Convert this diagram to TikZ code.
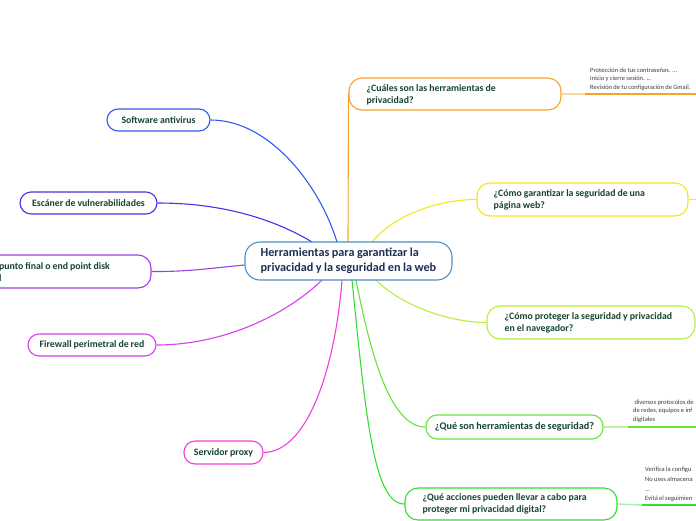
\documentclass[tikz,border=0pt]{standalone}
\usepackage{fontspec}
\setmainfont{Carlito}[WordSpace=0.9]
\definecolor{tgreen}{RGB}{22,68,52}
\definecolor{tnavy}{RGB}{28,48,86}
\definecolor{cborder}{RGB}{74,144,200}
\definecolor{corange}{RGB}{246,164,40}
\definecolor{corangel}{RGB}{251,214,160}
\definecolor{cyellow}{RGB}{242,232,20}
\definecolor{cygreen}{RGB}{184,238,60}
\definecolor{cgreenA}{RGB}{104,226,58}
\definecolor{cgreenAl}{RGB}{190,240,170}
\definecolor{cgreenB}{RGB}{52,220,52}
\definecolor{cgreenBl}{RGB}{170,238,170}
\definecolor{cblue}{RGB}{47,91,240}
\definecolor{cindigo}{RGB}{75,47,230}
\definecolor{cpurple}{RGB}{155,63,232}
\definecolor{cmagenta}{RGB}{214,63,238}
\definecolor{cpink}{RGB}{240,63,216}
\definecolor{small}{RGB}{60,60,60}
\tikzset{
  topicbox/.style={rectangle, fill=white, line width=1.1pt, inner sep=0pt,
    font=\bfseries\fontsize{9.8}{12}\selectfont, text=tgreen, align=center},
  topictext/.style={anchor=west, inner sep=0pt, align=left, text=tgreen,
    font=\bfseries\fontsize{9.8}{12}\selectfont},
  conn/.style={line width=1.1pt},
  uline/.style={line width=2.4pt},
  note/.style={anchor=west, inner sep=0pt, font=\fontsize{6.5}{8.5}\selectfont, text=small, align=left}
}
\begin{document}
\begin{tikzpicture}[x=1pt,y=-1pt]
\useasboundingbox (0,0) rectangle (696,520);
\clip (0,0) rectangle (696,520);

% right topics
\node[topicbox, draw=corange, rounded corners=13pt, minimum width=212pt, minimum height=32pt] (q1) at (455,94) {};
\node[topictext] (q1t) at ([xshift=18pt,yshift=-1pt]q1.west) {¿Cuáles son las herramientas de\\privacidad?};
\node[topicbox, draw=cyellow, rounded corners=13pt, minimum width=211pt, minimum height=33pt] (q2) at (582.5,199.5) {};
\node[topictext] (q2t) at ([xshift=17pt]q2.west) {¿Cómo garantizar la seguridad de una\\página web?};
\node[topicbox, draw=cygreen, rounded corners=13pt, minimum width=208pt, minimum height=33pt] (q3) at (591,322.5) {};
\node[topictext] (q3t) at ([xshift=18pt]q3.west) {¿Cómo proteger la seguridad y privacidad\\en el navegador?};
\node[topicbox, draw=cgreenA, rounded corners=11pt, minimum width=177pt, minimum height=24pt, font=\bfseries\fontsize{10.2}{12}\selectfont] (q4) at (514.5,427)
  {¿Qué son herramientas de seguridad?};
\node[topicbox, draw=cgreenB, rounded corners=13pt, minimum width=212pt, minimum height=32pt] (q5) at (511,504) {};
\node[topictext] (q5t) at ([xshift=18pt]q5.west) {¿Qué acciones pueden llevar a cabo para\\proteger mi privacidad digital?};

% left topics
\node[topicbox, draw=cblue, rounded corners=11pt, minimum width=103pt, minimum height=22pt] (sa) at (158.5,120) {Software antivirus};
\node[topicbox, draw=cindigo, rounded corners=11pt, minimum width=137pt, minimum height=22pt] (ev) at (88.5,203) {Escáner de vulnerabilidades};
\node[topicbox, draw=cpurple, rounded corners=13pt, minimum width=211pt, minimum height=33pt] (pf) at (45.5,271.5) {};
\node[topictext] (pft) at (-1,272) {punto final o end point disk\\l};
\node[topicbox, draw=cmagenta, rounded corners=11pt, minimum width=128pt, minimum height=22pt] (fw) at (92,345) {Firewall perimetral de red};
\node[topicbox, draw=cpink, rounded corners=11pt, minimum width=79pt, minimum height=23pt] (sp) at (223.5,452.5) {Servidor proxy};

% connector anchors on the central topic
\coordinate (cO) at (348,242);
\coordinate (cY) at (372,242);
\coordinate (cYG) at (376,280);
\coordinate (cG1) at (356,280);
\coordinate (cG2) at (352,280);
\coordinate (cB) at (337,242);
\coordinate (cI) at (312,242);
\coordinate (cP) at (245,265);
\coordinate (cM) at (322,280);
\coordinate (cK) at (342,280);

% connectors
\draw[conn, corange] (cO) -- (q1.west);
\draw[conn, cyellow] (cY) .. controls (395,214) and (440,199.5) .. (q2.west);
\draw[conn, cygreen] (cYG) .. controls (402,306) and (450,322.5) .. (q3.west);
\draw[conn, cgreenA] (cG1) .. controls (372,362) and (392,427) .. (q4.west);
\draw[conn, cgreenB] (cG2) .. controls (366,420) and (374,504) .. (q5.west);
\draw[conn, cblue] (sa.east) .. controls (270,120) and (320,186) .. (cB);
\draw[conn, cindigo] (ev.east) .. controls (232,203) and (282,224) .. (cI);
\draw[conn, cpurple] (pf.east) .. controls (190,272) and (220,267) .. (cP);
\draw[conn, cmagenta] (fw.east) .. controls (222,345) and (285,316) .. (cM);
\draw[conn, cpink] (sp.east) .. controls (310,452) and (336,360) .. (cK);

% central topic, drawn over the connector ends
\node[topicbox, draw=cborder, rounded corners=15pt, minimum width=207pt, minimum height=38pt] (c) at (348.5,261) {};
\node[topictext, text=tnavy, font=\bfseries\fontsize{12.2}{15}\selectfont] (ct) at ([xshift=16pt]c.west)
  {Herramientas para garantizar la\\privacidad y la seguridad en la web};

% right-side details
\coordinate (u1a) at (585,94);
\coordinate (u1b) at (696,94);
\draw[line width=1.4pt, corangel] (q1.east) -- (u1a);
\draw[uline, corange] (u1a) -- (u1b);
\node[note] (n1) at (590,79) {Protección de tus contraseñas. ...\\Inicio y cierre sesión. ...\\Revisión de tu configuración de Gmail.};

\coordinate (u2b) at (696,199.5);
\draw[line width=1.4pt, cyellow] (q2.east) -- (u2b);

\coordinate (u4a) at (628,427);
\coordinate (u4b) at (696,427);
\draw[line width=1.4pt, cgreenAl] (q4.east) -- (u4a);
\draw[uline, cgreenA] (u4a) -- (u4b);
\node[note] (n4) at (633,411) {\ diversos protocolos de\\de redes, equipos e inf\\digitales};

\coordinate (u5a) at (642,505);
\coordinate (u5b) at (696,505);
\draw[line width=1.4pt, cgreenBl] (q5.east) -- (u5a);
\draw[uline, cgreenB] (u5a) -- (u5b);
\node[note, font=\fontsize{6.5}{9.6}\selectfont] (n5) at (645,484.5) {Verifica la configu\\No uses almacena\\...\\Evitá el seguimien};
\end{tikzpicture}
\end{document}
